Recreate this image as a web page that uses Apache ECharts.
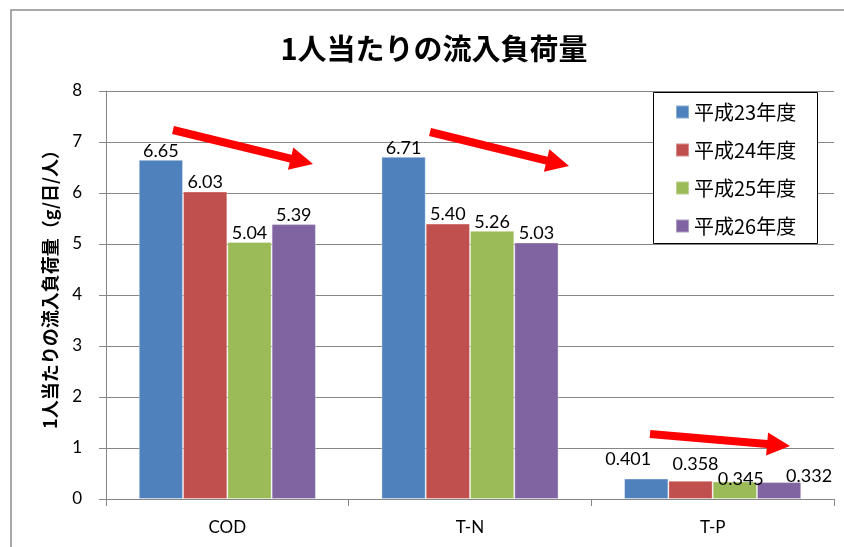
<!DOCTYPE html>
<html>
<head>
<meta charset="utf-8">
<script src="https://cdn.jsdelivr.net/npm/echarts@6/dist/echarts.min.js"></script>
<style>
  html, body { margin: 0; padding: 0; background: #fff; }
  #chart { width: 844px; height: 547px; }
</style>
</head>
<body>
<div id="chart"></div>
<script>
// Per-capita inflow load by fiscal year
const categories = ['COD', 'T-N', 'T-P'];
const seriesNames = ['平成23年度', '平成24年度', '平成25年度', '平成26年度'];
const h23 = [6.65, 6.71, 0.401];
const h24 = [6.03, 5.40, 0.358];
const h25 = [5.04, 5.26, 0.345];
const h26 = [5.39, 5.03, 0.332];
const yMin = 0, yMax = 8, yStep = 1;
const labelDecimals = [2, 2, 3];

const colors = ['#4F81BD', '#C0504D', '#9BBB59', '#8064A2'];
// label nudges for the crowded T-P group (one per series)
const tpLabelShift = [[-18, -10], [5, -8], [6, 7], [30, 3]];

const latin = 'Lato, "Noto Sans CJK JP", sans-serif';
const cjk = '"Noto Sans CJK JP", sans-serif';

function makeSeries(name, values, idx) {
  return {
    name: name,
    type: 'bar',
    barGap: '0%',
    barCategoryGap: '27%',
    itemStyle: { color: colors[idx], borderColor: 'rgba(255,255,255,0.35)', borderWidth: 1 },
    label: {
      show: true,
      position: 'top',
      distance: 0,
      color: '#000',
      fontFamily: latin,
      fontSize: 18,
      formatter: p => p.value.toFixed(labelDecimals[p.dataIndex])
    },
    data: values.map((v, i) => i === 2
      ? { value: v, label: { offset: tpLabelShift[idx] } }
      : v)
  };
}

// thick arrow outline from (x0,y0) to the tip (x1,y1)
function arrowPoints(x0, y0, x1, y1) {
  const shaft = 8, headLen = 23, headW = 23;
  const dx = x1 - x0, dy = y1 - y0, len = Math.hypot(dx, dy);
  const ux = dx / len, uy = dy / len, nx = -uy, ny = ux;
  const bx = x1 - ux * headLen, by = y1 - uy * headLen;
  const s = shaft / 2, h = headW / 2;
  return [
    [x0 + nx * s, y0 + ny * s],
    [bx + nx * s, by + ny * s],
    [bx + nx * h, by + ny * h],
    [x1, y1],
    [bx - nx * h, by - ny * h],
    [bx - nx * s, by - ny * s],
    [x0 - nx * s, y0 - ny * s]
  ];
}

const arrows = [
  [173, 130, 313, 164],
  [430, 132, 569, 166],
  [650, 434, 790, 446]
];

const chart = echarts.init(document.getElementById('chart'), null, { renderer: 'canvas' });

chart.setOption({
  animation: false,
  backgroundColor: '#fff',
  title: {
    text: '1人当たりの流入負荷量',
    left: 434,
    top: 34,
    padding: 0,
    textAlign: 'center',
    textStyle: { fontFamily: cjk, fontSize: 29, fontWeight: 'bold', color: '#000' }
  },
  grid: { left: 106, top: 91, right: 10, bottom: 48, containLabel: false },
  legend: {
    data: seriesNames,
    orient: 'vertical',
    left: 675,
    top: 102,
    padding: 0,
    itemGap: 18,
    itemWidth: 13,
    itemHeight: 13,
    icon: 'rect',
    z: 10,
    textStyle: { fontFamily: cjk, fontSize: 20, color: '#000' }
  },
  xAxis: {
    type: 'category',
    data: categories,
    axisLine: { lineStyle: { color: '#868686', width: 1 } },
    axisTick: { show: true, length: 7, alignWithLabel: false, lineStyle: { color: '#868686' } },
    axisLabel: { margin: 20, color: '#000', fontFamily: latin, fontSize: 17 }
  },
  yAxis: {
    type: 'value',
    min: yMin,
    max: yMax,
    interval: yStep,
    axisLine: { show: true, lineStyle: { color: '#868686', width: 1 } },
    axisTick: { show: true, length: 7, lineStyle: { color: '#868686' } },
    splitLine: { lineStyle: { color: '#868686', width: 1 } },
    axisLabel: { margin: 24, color: '#000', fontFamily: latin, fontSize: 17 }
  },
  graphic: [
    {
      type: 'rect', z: -10, silent: true,
      shape: { x: 11, y: 10, width: 900, height: 600 },
      style: { fill: 'none', stroke: '#8c8c8c', lineWidth: 1.5 }
    },
    {
      type: 'rect', z: 3, silent: true,
      shape: { x: 653.5, y: 92.5, width: 164, height: 151 },
      style: { fill: '#fff', stroke: '#000', lineWidth: 1 }
    },
    {
      type: 'text', z: 5, silent: true,
      x: 50, y: 285, rotation: Math.PI / 2,
      style: {
        text: '1人当たりの流入負荷量（g/日/人）',
        fontFamily: cjk, fontSize: 18, fontWeight: 'bold', fill: '#000',
        align: 'center', verticalAlign: 'middle'
      }
    }
  ].concat(arrows.map(a => ({
    type: 'polygon', z: 20, silent: true,
    shape: { points: arrowPoints(a[0], a[1], a[2], a[3]) },
    style: { fill: '#FF0000', stroke: null }
  }))),
  series: [
    makeSeries(seriesNames[0], h23, 0),
    makeSeries(seriesNames[1], h24, 1),
    makeSeries(seriesNames[2], h25, 2),
    makeSeries(seriesNames[3], h26, 3)
  ]
});
</script>
</body>
</html>
